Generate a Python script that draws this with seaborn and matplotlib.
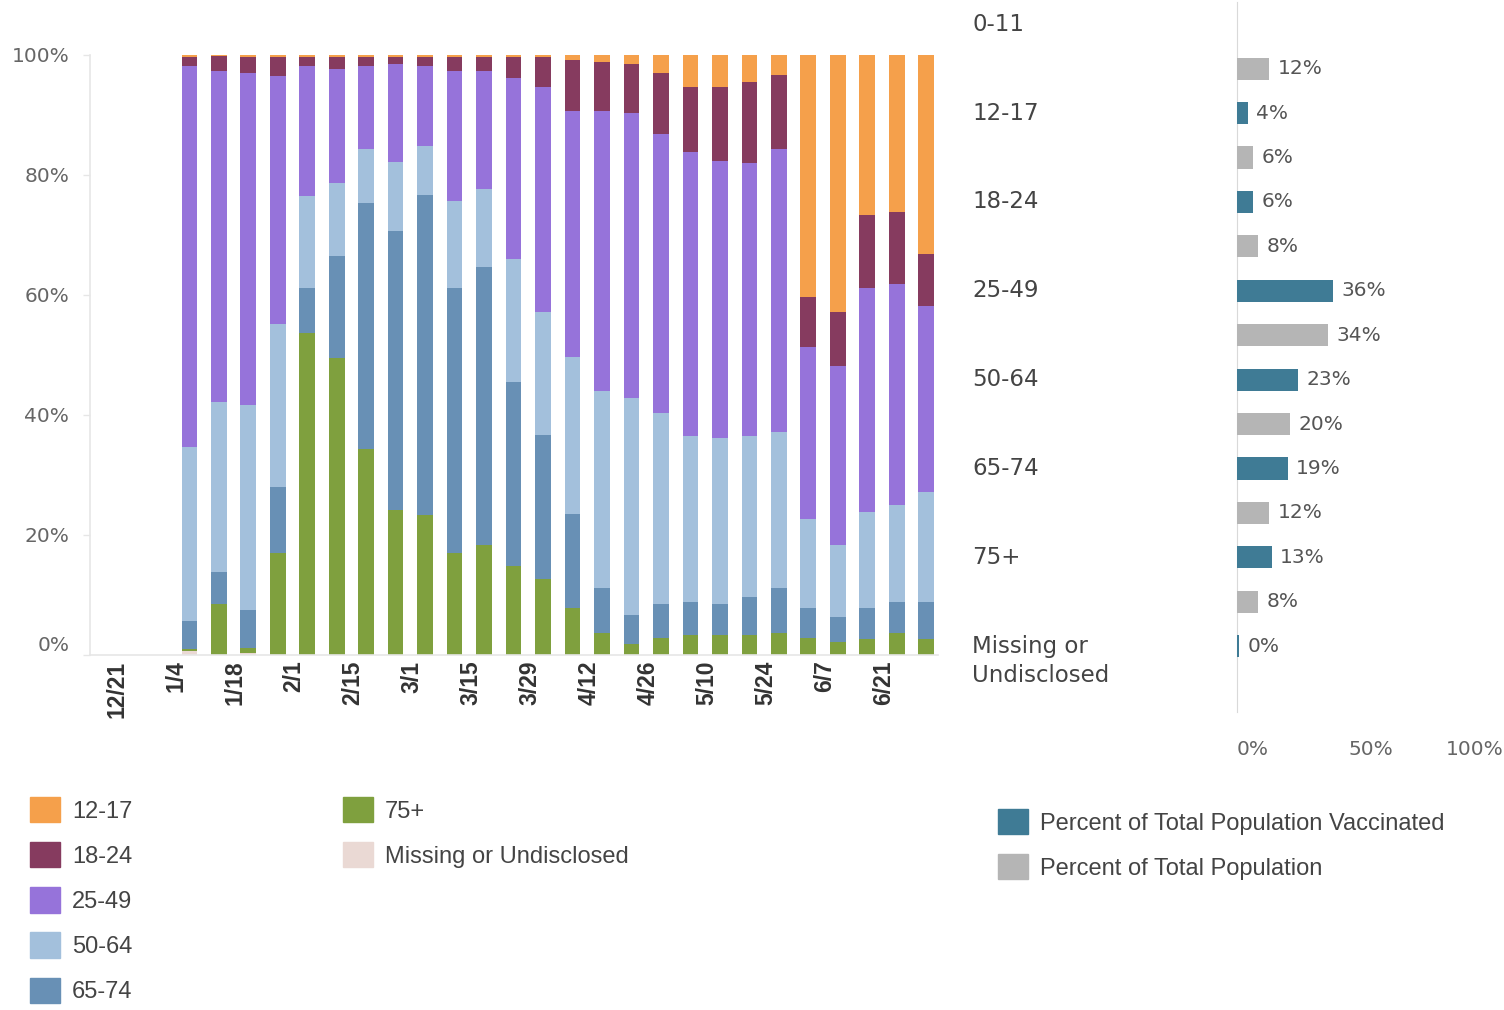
import numpy as np
import pandas as pd
import matplotlib.pyplot as plt
import matplotlib.transforms as mtransforms
import seaborn as sns
from matplotlib.patches import Patch

# weekly share of doses by age group (%), weeks starting 12/21
weeks = ["12/21", "12/28", "1/4", "1/11", "1/18", "1/25", "2/1", "2/8", "2/15", "2/22",
         "3/1", "3/8", "3/15", "3/22", "3/29", "4/5", "4/12", "4/19", "4/26", "5/3",
         "5/10", "5/17", "5/24", "5/31", "6/7", "6/14", "6/21", "6/28"]
tick_weeks = weeks[::2]

missing = [0, 0, 0.7, 0, 0.3, 0, 0, 0, 0, 0, 0, 0, 0, 0, 0, 0, 0, 0, 0, 0, 0, 0, 0, 0, 0, 0, 0, 0]
age_75 = [0, 0, 0.3, 8.5, 0.8, 17.0, 53.7, 49.5, 34.3, 24.2, 23.4, 17.0, 18.3, 14.9, 12.6, 7.9,
          3.7, 1.9, 2.9, 3.3, 3.3, 3.3, 3.7, 2.9, 2.2, 2.6, 3.7, 2.6]
age_65 = [0, 0, 4.6, 5.4, 6.4, 11.0, 7.5, 17.0, 41.0, 46.4, 53.2, 44.2, 46.3, 30.6, 24.0, 15.6,
          7.5, 4.8, 5.6, 5.6, 5.2, 6.4, 7.5, 4.9, 4.1, 5.2, 5.2, 6.3]
age_50 = [0, 0, 29.1, 28.3, 34.2, 27.2, 15.3, 12.2, 9.0, 11.5, 8.2, 14.5, 13.0, 20.5, 20.5, 26.1,
          32.8, 36.2, 31.8, 27.6, 27.6, 26.8, 26.0, 14.9, 12.0, 16.1, 16.1, 18.3]
age_25 = [0, 0, 63.4, 55.2, 55.3, 41.3, 21.6, 19.0, 13.8, 16.4, 13.3, 21.7, 19.8, 30.2, 37.6, 41.0,
          46.6, 47.4, 46.6, 47.4, 46.3, 45.5, 47.1, 28.7, 29.8, 37.3, 36.9, 31.0]
age_18 = [0, 0, 1.5, 2.4, 2.6, 3.1, 1.5, 1.9, 1.5, 1.1, 1.5, 2.2, 2.2, 3.4, 4.9, 8.6,
          8.2, 8.2, 10.1, 10.8, 12.3, 13.5, 12.3, 8.3, 9.0, 12.2, 12.0, 8.6]
age_12 = [0, 0, 0.4, 0.2, 0.4, 0.4, 0.4, 0.4, 0.4, 0.4, 0.4, 0.4, 0.4, 0.4, 0.4, 0.8,
          1.2, 1.5, 3.0, 5.3, 5.3, 4.5, 3.4, 40.3, 42.9, 26.6, 26.1, 33.2]

# bottom to top
stack_names = ["Missing or Undisclosed", "75+", "65-74", "50-64", "25-49", "18-24", "12-17"]
stack_values = [missing, age_75, age_65, age_50, age_25, age_18, age_12]
stack_colors = ["#EAD9D4", "#7FA03E", "#6890B5", "#A3C0DC", "#9673DA", "#863B5F", "#F5A04B"]

# right panel: population vs vaccinated
age_groups = ["0-11", "12-17", "18-24", "25-49", "50-64", "65-74", "75+", "Missing or\nUndisclosed"]
pct_vaccinated = [np.nan, 4, 6, 36, 23, 19, 13, 0.9]
pct_population = [12, 6, 8, 34, 20, 12, 8, np.nan]
series_names = ["Percent of Total Population Vaccinated", "Percent of Total Population"]
series_colors = ["#3F7B95", "#B5B5B5"]

sns.set_style("white")
plt.rcParams["font.family"] = ["DejaVu Sans"]

W, H = 1504, 1010
fig = plt.figure(figsize=(W / 100, H / 100), dpi=100)


def fig_rect(x0, y0, x1, y1):
    # pixel box (top-left origin) -> figure fraction rect
    return [x0 / W, 1 - y1 / H, (x1 - x0) / W, (y1 - y0) / H]


# ---- left: 100% stacked weekly bars ----
ax = fig.add_axes(fig_rect(90, 55, 938, 655))
cum = np.cumsum(np.array(stack_values), axis=0)
for k in range(len(stack_names) - 1, -1, -1):
    sns.barplot(x=weeks, y=cum[k], order=weeks, color=stack_colors[k], saturation=1,
                width=0.53, linewidth=0, ax=ax)

ax.set_xlim(-1.37, 27.4)
ax.set_ylim(0, 100)
ax.set_xticks([i - 0.45 for i in range(0, len(weeks), 2)])
ax.set_xticklabels(tick_weeks, rotation=90, fontsize=16.5, fontweight="bold",
                   color="#333333", family=["Liberation Sans"])
ax.tick_params(axis="x", length=0, pad=4)
ax.set_yticks([0, 20, 40, 60, 80, 100])
ax.set_yticklabels([f"{v}%" for v in [0, 20, 40, 60, 80, 100]], fontsize=14.5, color="#666666")
ax.tick_params(axis="y", length=5, color="#e6e6e6", width=1, pad=10, left=True)
ax.get_yticklabels()[0].set_va("bottom")
for s in ["top", "right"]:
    ax.spines[s].set_visible(False)
for s in ["left", "bottom"]:
    ax.spines[s].set_color("#e6e6e6")
    ax.spines[s].set_linewidth(1.2)
ax.set_xlabel("")
ax.set_ylabel("")

# ---- right: population vs vaccinated ----
ax2 = fig.add_axes(fig_rect(1237, 2, 1504, 712))
df_pop = pd.DataFrame({
    "group": age_groups * 2,
    "series": [series_names[0]] * len(age_groups) + [series_names[1]] * len(age_groups),
    "value": pct_vaccinated + pct_population,
})
sns.barplot(data=df_pop, y="group", x="value", hue="series", order=age_groups,
            hue_order=series_names, palette=series_colors, saturation=1, orient="h",
            width=1.0, gap=0.5, linewidth=0, legend=False, ax=ax2)
for cont in ax2.containers:
    ax2.bar_label(cont, labels=[f"{int(v)}%" for v in cont.datavalues], padding=6,
                  fontsize=14.5, color="#555555")
ax2.set_xlim(0, 100)
ax2.set_ylim(7.49, -0.5)
ax2.set_yticks([])
ax2.set_xticks([0, 50, 100])
ax2.set_xticklabels(["0%", "50%", "100%"], fontsize=14.5, color="#666666")
ax2.get_xticklabels()[0].set_ha("left")
ax2.get_xticklabels()[2].set_ha("right")
ax2.tick_params(axis="x", length=0, pad=20)
for s in ["top", "right", "bottom"]:
    ax2.spines[s].set_visible(False)
ax2.spines["left"].set_color("#d9d9d9")
ax2.spines["left"].set_zorder(0.5)
ax2.set_xlabel("")
ax2.set_ylabel("")

lab_tr = mtransforms.blended_transform_factory(fig.transFigure, ax2.transData)
for j, g in enumerate(age_groups):
    if "\n" in g:
        ax2.text(972 / W, j - 0.25 - 0.125, g, transform=lab_tr, ha="left", va="top",
                 fontsize=16.5, color="#444444", linespacing=1.3, clip_on=False)
    else:
        ax2.text(972 / W, j - 0.25, g, transform=lab_tr, ha="left", va="center",
                 fontsize=16.5, color="#444444", clip_on=False)

# ---- legends ----
leg_kw = dict(frameon=False, loc="upper left", borderpad=0, borderaxespad=0,
              handlelength=1.27, handleheight=1.27, handletextpad=0.5, labelspacing=0.83,
              prop={"family": "Liberation Sans", "size": 17}, labelcolor="#444444")
h_left = [Patch(color=c) for c in stack_colors]
col1 = [6, 5, 4, 3, 2]
col2 = [1, 0]
fig.legend([h_left[i] for i in col1], [stack_names[i] for i in col1],
           bbox_to_anchor=(30 / W, 1 - 797 / H), **leg_kw)
fig.legend([h_left[i] for i in col2], [stack_names[i] for i in col2],
           bbox_to_anchor=(343 / W, 1 - 797 / H), **leg_kw)
fig.legend([Patch(color=c) for c in series_colors], series_names,
           bbox_to_anchor=(998 / W, 1 - 809 / H), **leg_kw)

fig.savefig("out.png", dpi=100)
